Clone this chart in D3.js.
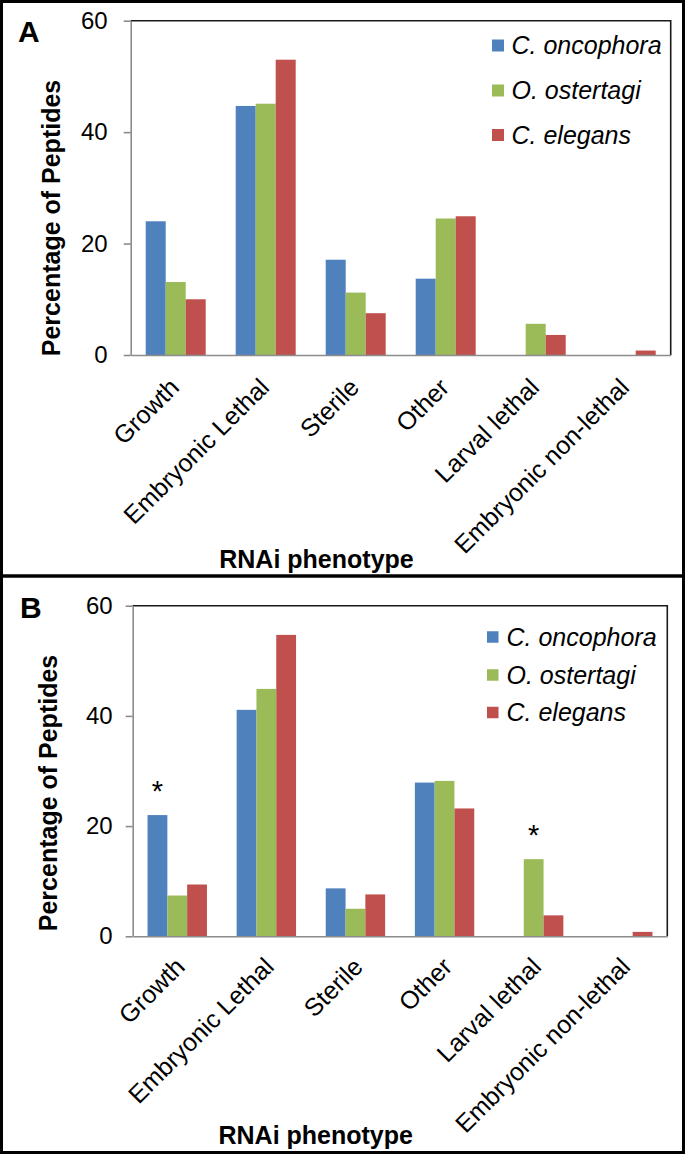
<!DOCTYPE html>
<html>
<head>
<meta charset="utf-8">
<script src="https://cdn.jsdelivr.net/npm/d3@7"></script>
<style>
  html, body { margin: 0; padding: 0; background: #fff; }
  svg { display: block; }
  text { font-family: "Liberation Sans", Arial, Helvetica, sans-serif; }
</style>
</head>
<body>
<svg id="chart" width="685" height="1154"></svg>
<script>
// ---------- DATA ----------
const categories = ["Growth", "Embryonic Lethal", "Sterile", "Other", "Larval lethal", "Embryonic non-lethal"];
const seriesNames = ["C. oncophora", "O. ostertagi", "C. elegans"];
const seriesColors = ["#4F81BD", "#9BBB59", "#C0504D"];
const yTicks = [0, 20, 40, 60];

// Panel A
const panelA_oncophora = [24.0, 44.7, 17.1, 13.7, 0, 0];
const panelA_ostertagi = [13.1, 45.1, 11.2, 24.5, 5.6, 0];
const panelA_elegans   = [10.0, 53.0, 7.5, 24.9, 3.6, 0.8];

// Panel B
const panelB_oncophora = [22.0, 41.1, 8.7, 27.9, 0, 0];
const panelB_ostertagi = [7.4, 44.9, 5.0, 28.2, 14.0, 0];
const panelB_elegans   = [9.4, 54.7, 7.6, 23.2, 3.8, 0.8];

// significance markers (panel B)
const panelB_significant = [
  { category: "Growth", series: 0 },
  { category: "Larval lethal", series: 1 }
];

const yTitle = "Percentage of Peptides";
const xTitle = "RNAi phenotype";

// ---------- LAYOUT ----------
const svg = d3.select("#chart");
const W = 685, H = 1154;

svg.append("rect").attr("x", 0).attr("y", 0).attr("width", W).attr("height", H).attr("fill", "#fff");

const panels = [
  {
    label: "A", labelX: 18, labelY: 42,
    left: 130.7, right: 670.7, top: 20.7, bottom: 355,
    series: [panelA_oncophora, panelA_ostertagi, panelA_elegans],
    tickPad: 16,
    legendSqX: 492, legendSq: 12, legendTextX: 511.5, legendRows: [45.5, 90.5, 135],
    yTitleX: 60, yTitleY: 218,
    xLabelDx: 5, xLabelDy: 34,
    xTitleX: 316.5, xTitleY: 568,
    marks: []
  },
  {
    label: "B", labelX: 20, labelY: 618,
    left: 132.7, right: 667.3, top: 605.7, bottom: 936.3,
    series: [panelB_oncophora, panelB_ostertagi, panelB_elegans],
    tickPad: 13,
    legendSqX: 487, legendSq: 11.5, legendTextX: 506.5, legendRows: [637, 675, 712.5],
    yTitleX: 57, yTitleY: 793,
    xLabelDx: 9, xLabelDy: 32,
    xTitleX: 315.7, xTitleY: 1144,
    marks: panelB_significant
  }
];

panels.forEach(p => {
  const g = svg.append("g");
  const y = d3.scaleLinear().domain([0, 60]).range([p.bottom, p.top]);
  const x0 = d3.scaleBand().domain(categories).range([p.left, p.right])
    .paddingInner(1 / 3).paddingOuter(1 / 6);
  const x1 = d3.scaleBand().domain(d3.range(seriesNames.length)).range([0, x0.bandwidth()]);

  // bars
  p.series.forEach((vals, si) => {
    g.append("g").selectAll("rect")
      .data(categories.map((c, i) => ({ c, v: vals[i] })))
      .join("rect")
      .attr("x", d => x0(d.c) + x1(si))
      .attr("width", x1.bandwidth())
      .attr("y", d => y(d.v))
      .attr("height", d => y(0) - y(d.v))
      .attr("fill", seriesColors[si]);
  });

  // plot frame (top & right)
  g.append("path")
    .attr("d", `M${p.left},${p.top}H${p.right}V${p.bottom}`)
    .attr("fill", "none").attr("stroke", "#1a1a1a").attr("stroke-width", 1.6);

  // y axis
  const yAxis = g.append("g").attr("transform", `translate(${p.left},0)`)
    .call(d3.axisLeft(y).tickValues(yTicks).tickSize(7).tickSizeOuter(0).tickPadding(p.tickPad));
  yAxis.select(".domain").attr("stroke", "#8c8c8c").attr("stroke-width", 1.6);
  yAxis.selectAll(".tick line").attr("stroke", "#8c8c8c").attr("stroke-width", 1.6);
  yAxis.selectAll(".tick text").attr("font-size", 24).attr("fill", "#000")
    .attr("font-family", "'Liberation Sans', Arial, sans-serif");

  // x axis
  const xAxis = g.append("g").attr("transform", `translate(0,${p.bottom})`)
    .call(d3.axisBottom(x0).tickSize(0).tickSizeOuter(0).tickFormat(""));
  xAxis.select(".domain").attr("stroke", "#8c8c8c").attr("stroke-width", 1.6);

  // x labels rotated
  g.append("g").selectAll("text")
    .data(categories)
    .join("text")
    .attr("transform", d => `translate(${x0(d) + x0.bandwidth() / 2 + p.xLabelDx},${p.bottom + p.xLabelDy}) rotate(-45)`)
    .attr("text-anchor", "end")
    .attr("font-size", 25)
    .attr("fill", "#000")
    .text(d => d);

  // axis titles
  g.append("text")
    .attr("transform", `translate(${p.yTitleX},${p.yTitleY}) rotate(-90)`)
    .attr("text-anchor", "middle")
    .attr("font-size", 25).attr("font-weight", "bold")
    .text(yTitle);

  g.append("text")
    .attr("x", p.xTitleX).attr("y", p.xTitleY)
    .attr("text-anchor", "middle")
    .attr("font-size", 25).attr("font-weight", "bold")
    .text(xTitle);

  // panel label
  g.append("text")
    .attr("x", p.labelX).attr("y", p.labelY)
    .attr("font-size", 30).attr("font-weight", "bold")
    .text(p.label);

  // legend
  const lg = g.append("g");
  seriesNames.forEach((name, i) => {
    lg.append("rect")
      .attr("x", p.legendSqX).attr("y", p.legendRows[i] - p.legendSq / 2)
      .attr("width", p.legendSq).attr("height", p.legendSq)
      .attr("fill", seriesColors[i]);
    lg.append("text")
      .attr("x", p.legendTextX).attr("y", p.legendRows[i])
      .attr("dy", "0.35em")
      .attr("font-size", 25).attr("font-style", "italic")
      .text(name);
  });

  // significance asterisks
  g.append("g").selectAll("text")
    .data(p.marks)
    .join("text")
    .attr("x", d => x0(d.category) + x1(d.series) + x1.bandwidth() / 2)
    .attr("y", d => y(p.series[d.series][categories.indexOf(d.category)]) - 14)
    .attr("text-anchor", "middle")
    .attr("font-size", 29)
    .text("*");
});

// outer border and separator
svg.append("rect").attr("x", 1.5).attr("y", 1.5).attr("width", W - 3).attr("height", H - 3)
  .attr("fill", "none").attr("stroke", "#000").attr("stroke-width", 3);
svg.append("line").attr("x1", 0).attr("x2", W).attr("y1", 576).attr("y2", 576)
  .attr("stroke", "#000").attr("stroke-width", 3.5);
</script>
</body>
</html>
